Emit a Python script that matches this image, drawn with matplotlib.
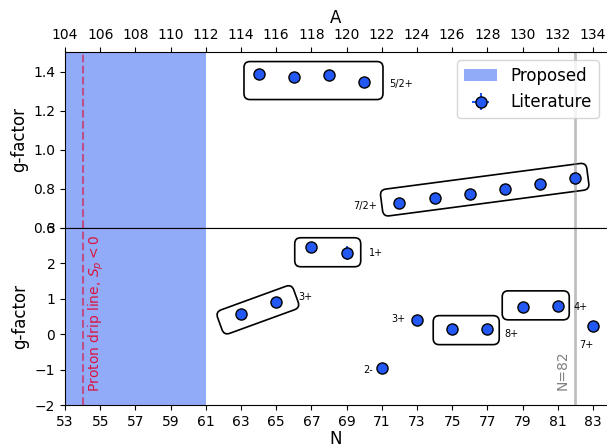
import matplotlib
matplotlib.use("Agg")
import matplotlib.pyplot as plt
from matplotlib.patches import FancyBboxPatch
from matplotlib.transforms import Affine2D

# top panel: mass number A, bottom panel: neutron number N (A = N + 51)
A_top = [115, 117, 119, 121, 123, 125, 127, 129, 131, 133]
g_top = [1.385, 1.373, 1.380, 1.348, 0.730, 0.753, 0.775, 0.798, 0.827, 0.857]
gerr_top = [0.005] * 10

N_bot = [63, 65, 67, 69, 71, 73, 75, 77, 79, 81, 83]
g_bot = [0.56, 0.90, 2.45, 2.29, -0.95, 0.40, 0.15, 0.15, 0.77, 0.79, 0.24]
gerr_bot = [0.02, 0.02, 0.05, 0.2, 0.02, 0.02, 0.02, 0.02, 0.02, 0.02, 0.02]

spin_top = ["5/2+", "7/2+"]
spin_top_pos = [(123.1, 1.337), (121.05, 0.71)]
spin_bot = ["3+", "1+", "3+", "2-", "8+", "4+", "7+"]
spin_bot_pos = [(66.66, 1.06), (70.66, 2.29), (71.93, 0.42), (70.23, -1.02),
                (78.35, 0.0), (82.31, 0.76), (82.61, -0.31)]

# boxes: (x center, y center, width px, height px, angle)
box_top = [(118.12, 1.354, 139, 38, 0), (127.85, 0.796, 208, 27, 7.5)]
box_bot = [(63.96, 0.69, 81, 25, 20), (67.93, 2.315, 66, 29, 0),
           (75.8, 0.115, 66, 29, 0), (79.75, 0.815, 67, 29, 0)]

blue = "#2458f4"

fig = plt.figure(figsize=(6.07, 4.46), dpi=100)
ax1 = fig.add_axes([0.1071, 0.4888, 0.8929, 0.3946])
ax2 = fig.add_axes([0.1071, 0.0919, 0.8929, 0.3969])

ax1.set_xlim(104, 134.8)
ax1.set_ylim(0.6, 1.5)
ax2.set_xlim(53, 83.8)
ax2.set_ylim(-2, 3)

ax1.axvspan(104, 112, color=blue, alpha=0.5, lw=0, label="Proposed")
ax2.axvspan(53, 61, color=blue, alpha=0.5, lw=0)
ax1.axvline(105, color="crimson", ls="--", lw=1.5, alpha=0.6)
ax2.axvline(54, color="crimson", ls="--", lw=1.5, alpha=0.6)
ax1.axvline(133, color="gray", lw=2, alpha=0.5)
ax2.axvline(82, color="gray", lw=2, alpha=0.5)

ax1.errorbar(A_top, g_top, yerr=gerr_top, xerr=[0] * len(A_top), fmt="o", color=blue,
             mec="k", ms=8, mew=1, zorder=5, label="Literature")
ax2.errorbar(N_bot, g_bot, yerr=gerr_bot, xerr=[0] * len(N_bot), fmt="o", color=blue,
             mec="k", ms=8, mew=1, zorder=5)

for t, (x, y) in zip(spin_top, spin_top_pos):
    ax1.text(x, y, t, fontsize=7, ha="center", va="center")
for t, (x, y) in zip(spin_bot, spin_bot_pos):
    ax2.text(x, y, t, fontsize=7, ha="center", va="center")


def add_box(ax, x, y, w, h, ang):
    cx, cy = ax.transData.transform((x, y))
    p = FancyBboxPatch((cx - w / 2, cy - h / 2), w, h,
                       boxstyle="round,pad=0,rounding_size=6",
                       fill=False, ec="black", lw=1.2,
                       transform=Affine2D().rotate_deg_around(cx, cy, ang))
    ax.add_patch(p)


for b in box_top:
    add_box(ax1, *b)
for b in box_bot:
    add_box(ax2, *b)

ax2.text(54.8, -1.63, "Proton drip line, $S_p < 0$", color="crimson", fontsize=10,
         rotation=90, ha="center", va="bottom")
ax2.text(81.3, -1.58, "N=82", color="gray", fontsize=10, rotation=90,
         ha="center", va="bottom")

ax1.xaxis.tick_top()
ax1.xaxis.set_label_position("top")
ax1.set_xticks(range(104, 135, 2))
ax1.set_yticks([0.6, 0.8, 1.0, 1.2, 1.4])
ax1.set_xlabel("A", fontsize=12)
ax1.set_ylabel("g-factor", fontsize=12)
ax1.spines["right"].set_visible(False)

ax2.set_xticks(range(53, 84, 2))
ax2.set_yticks([-2, -1, 0, 1, 2, 3])
ax2.set_xlabel("N", fontsize=12, labelpad=1)
ax2.set_ylabel("g-factor", fontsize=12)
ax2.spines["right"].set_visible(False)

ax1.legend(loc="upper right", fontsize=12)

fig.savefig("out.png", dpi=100)
